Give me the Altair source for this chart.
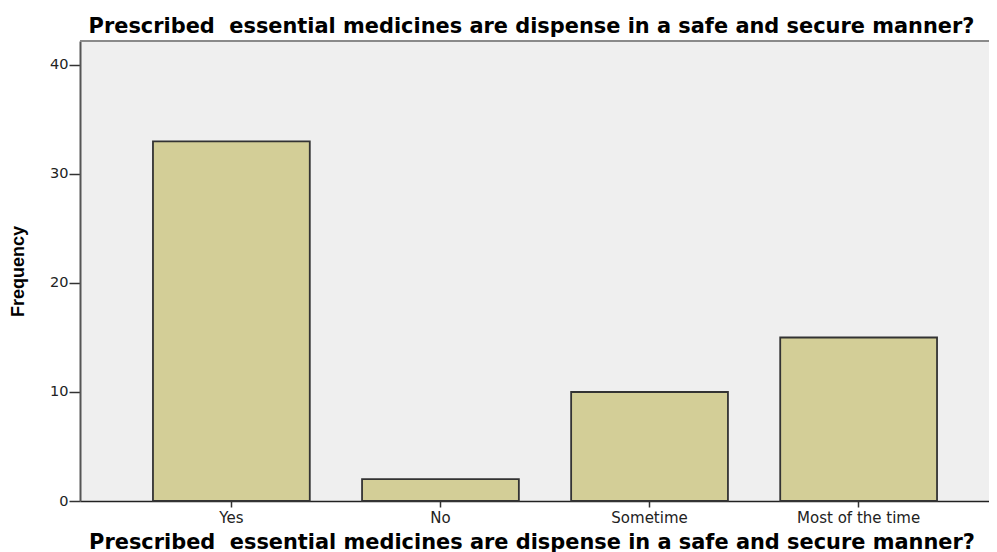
import altair as alt
import pandas as pd

categories = ["Yes", "No", "Sometime", "Most of the time"]
frequencies = [33, 2, 10, 15]
y_ticks = [0, 10, 20, 30, 40]
title_text = "Prescribed\u00a0 essential medicines are dispense in a safe and secure manner?"

df = pd.DataFrame({"category": categories, "frequency": frequencies})

bars = (
    alt.Chart(df)
    .mark_bar(color="#D3CE97", stroke="#333333", strokeWidth=1.8)
    .encode(
        x=alt.X(
            "category:N",
            sort=categories,
            scale=alt.Scale(range=[0, 930], paddingInner=0.25, paddingOuter=0.349),
            axis=alt.Axis(
                title=title_text,
                labelAngle=0,
                labelFont="DejaVu Sans",
                labelFontSize=15,
                labelColor="#222222",
                labelPadding=3,
                tickSize=6,
                tickColor="#333333",
                tickWidth=1.5,
                domainColor="#222222",
                domainWidth=1.5,
                titleFont="DejaVu Sans",
                titleFontSize=20.9,
                titleFontWeight="bold",
                titleColor="#000000",
                titleBaseline="top",
                titlePadding=6,
                titleX=451.5,
            ),
        ),
        y=alt.Y(
            "frequency:Q",
            scale=alt.Scale(domain=[0, 42.2], nice=False),
            axis=alt.Axis(
                title="Frequency",
                values=y_ticks,
                grid=False,
                labelFont="DejaVu Sans",
                labelFontSize=14.5,
                labelColor="#222222",
                labelPadding=1,
                tickSize=11,
                tickColor="#333333",
                tickWidth=1.5,
                domainColor="#555555",
                domainWidth=2,
                titleFont="Liberation Sans Narrow, Liberation Sans",
                titleFontSize=18,
                titleFontWeight="bold",
                titleColor="#000000",
                titleAngle=270,
                titleAlign="center",
                titleBaseline="middle",
                titleX=-62,
                titleY=230,
            ),
        ),
    )
)

top_border = (
    alt.Chart(df)
    .mark_rule(color="#8a8a8a", strokeWidth=2)
    .encode(x=alt.value(0), x2=alt.value(909), y=alt.value(0))
)

chart = (
    alt.layer(bars, top_border)
    .properties(
        width=909,
        height=460,
        title=alt.TitleParams(
            text=title_text,
            font="DejaVu Sans",
            fontSize=20.9,
            fontWeight="bold",
            color="#000000",
            anchor="middle",
            offset=3,
            dx=-3,
        ),
        autosize=alt.AutoSizeParams(type="none"),
        padding={"left": 72, "top": 33, "right": 0, "bottom": 51},
    )
    .configure_view(fill="#EFEFEF", strokeWidth=0, stroke="transparent")
)

chart.save("out.html", embed_options={"renderer": "svg", "actions": False})
